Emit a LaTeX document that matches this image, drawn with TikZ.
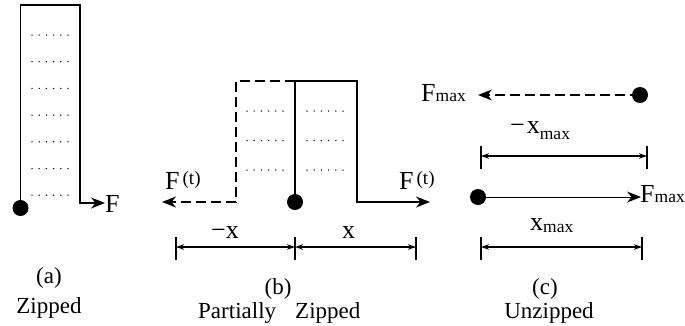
\documentclass[tikz,border=0pt]{standalone}
\usepackage{fontspec}
\setmainfont{Liberation Serif}
\usetikzlibrary{arrows.meta}
\newcommand\zdotrow[3]{\foreach \k in {0,...,5}{\fill ({#1+\k*7.2},#3) circle (0.75pt);}}
\newcommand\zsmall{\fontsize{19}{22}\selectfont}
\newcommand\zsub{\fontsize{17.5}{20}\selectfont}
\begin{document}
\begin{tikzpicture}[x=1pt,y=-1pt,
  bead/.style={circle,fill=black,inner sep=0pt,minimum size=16pt},
  strand/.style={line width=1.8pt},
  dstrand/.style={line width=1.8pt,dash pattern=on 10pt off 5pt},
  force/.style={-{Stealth[length=14pt,width=11pt,inset=4.5pt]}},
  dimline/.style={line width=1.3pt,{Stealth[length=8pt,width=5.5pt]}-{Stealth[length=8pt,width=5.5pt]}},
  tickmark/.style={line width=1.8pt},
  lbl/.style={inner sep=0pt,font=\fontsize{23}{26}\selectfont},
  big/.style={inner sep=0pt,font=\fontsize{26}{30}\selectfont},
]
\useasboundingbox (0,0) rectangle (685,325);

% ---------- (a) ----------
\node[bead] (ba) at (20.5,208) {};
\coordinate (aend) at (105,203);
\draw[strand,force] (ba.center) -- (20.5,5) -- (80,5) -- (80,203) -- (aend);
\node[big,anchor=base west] (Fa) at (105,212) {F};
\foreach \r in {0,...,6}{\zdotrow{32}{0}{35+\r*26.7}}
\node[lbl] (capa) at (49,278) {(a)};
\node[lbl,anchor=base] (zipa) at (49,313) {Zipped};

% ---------- (b) ----------
\node[bead] (bb) at (295,202) {};
\coordinate (bl) at (162,202);
\coordinate (br) at (430,202);
\draw[dstrand,force] (295,81) -- (236,81) -- (236,202) -- (bl);
\draw[strand,force] (bb.center) -- (295,81) -- (357,81) -- (357,202) -- (br);
\foreach \r in {0,1,2}{\zdotrow{247}{0}{111+\r*29.5}\zdotrow{307}{0}{111+\r*29.5}}
\node[big,anchor=base west] (Fbl) at (165,189) {F\hspace{3pt}{\zsmall\raisebox{5pt}{(t)}}};
\node[big,anchor=base west] (Fbr) at (399,189) {F\hspace{3pt}{\zsmall\raisebox{5pt}{(t)}}};
\coordinate (t1) at (176,247);
\coordinate (t2) at (295,247);
\coordinate (t3) at (416,247);
\foreach \t in {t1,t2,t3}{\draw[tickmark] ([yshift=-13pt]\t) -- ([yshift=10pt]\t);}
\draw[dimline] (t1) -- (t2);
\draw[dimline] (t2) -- (t3);
\node[big,anchor=base west] (mx) at (211,238) {−x};
\node[big,anchor=base west] (px) at (342,238) {x};
\node[lbl] (capb) at (278,289) {(b)};
\node[lbl,anchor=base west] (part) at (198,318) {Partially};
\node[lbl,anchor=base west] (zipb) at (295,318) {Zipped};

% ---------- (c) ----------
\node[bead] (ct) at (640,95) {};
\coordinate (ctl) at (478,95);
\draw[dstrand,force] (ct.center) -- (ctl);
\node[big,anchor=base west] (Fct) at (421,101) {F{\zsub max}};
\node[bead] (cb) at (478,197) {};
\coordinate (cbr) at (641,197);
\draw[line width=0.9pt,force] (cb.center) -- (cbr);
\node[big,anchor=base west] (Fcb) at (640,202) {F{\zsub max}};
\coordinate (u1) at (481,156);
\coordinate (u2) at (647,156);
\foreach \t in {u1,u2}{\draw[tickmark] ([yshift=-13pt]\t) -- ([yshift=10pt]\t);}
\draw[dimline] (u1) -- (u2);
\node[big,anchor=base west] (mxm) at (510,133) {−\hspace{2pt}x{\zsub\raisebox{-6pt}{max}}};
\coordinate (v1) at (481,247);
\coordinate (v2) at (642,247);
\foreach \t in {v1,v2}{\draw[tickmark] ([yshift=-13pt]\t) -- ([yshift=10pt]\t);}
\draw[dimline] (v1) -- (v2);
\node[big,anchor=base west] (xm) at (530,230) {x{\zsub\raisebox{-2pt}{max}}};
\node[lbl] (capc) at (545,289) {(c)};
\node[lbl,anchor=base] (unz) at (549,318) {Unzipped};
\end{tikzpicture}
\end{document}
